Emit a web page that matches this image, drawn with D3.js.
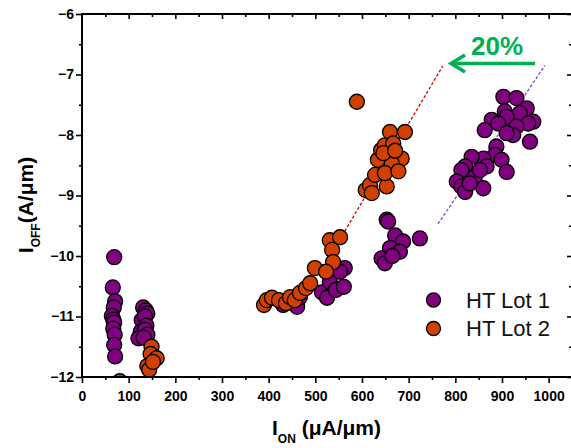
<!DOCTYPE html>
<html><head><meta charset="utf-8">
<script src="https://cdn.jsdelivr.net/npm/d3@7"></script>
<style>body{margin:0;background:#fff;}svg{display:block;}</style>
</head><body><svg id="c" width="571" height="448"></svg>
<script>
// ---- data ----
const lot1 = [
 [69,-10.02],[66,-10.52],[71,-10.75],[68,-10.85],[64,-10.99],[67,-11.05],[69,-11.1],[67,-11.2],[70,-11.3],[69,-11.47],[71,-11.66],
 [131,-10.85],[137,-10.9],[140,-10.95],[128,-11.06],[135,-11.0],[138,-11.15],[126,-11.25],[135,-11.22],[121,-11.36],[140,-11.3],[132,-11.35],
 [431,-10.81],[446,-10.76],[461,-10.84],[467,-10.68],[514,-10.6],[525,-10.69],[531,-10.43],[544,-10.56],[561,-10.51],[563,-10.2],[553,-10.26],
 [653,-9.4],[656,-9.43],[671,-9.66],[724,-9.71],[688,-9.76],[660,-9.87],[681,-9.93],[642,-10.04],[649,-10.12],[665,-10.0],
 [903,-7.37],[931,-7.39],[953,-7.56],[906,-7.61],[938,-7.64],[967,-7.78],[956,-7.81],[910,-7.7],[878,-7.75],[863,-7.92],[892,-7.81],
 [931,-7.86],[924,-8.0],[910,-7.97],[960,-8.11],[888,-8.19],[885,-8.33],[899,-8.41],[910,-8.61],[860,-8.39],[867,-8.52],[835,-8.36],
 [821,-8.52],[813,-8.58],[842,-8.69],[803,-8.77],[813,-8.85],[821,-8.94],[860,-8.88],[831,-8.8],[853,-8.58]
];
const lot2 = [
 [81,-12.07],[149,-11.5],[147,-11.62],[160,-11.69],[140,-11.82],[144,-11.88],[152,-11.75],
 [390,-10.81],[396,-10.73],[407,-10.69],[422,-10.73],[437,-10.78],[446,-10.68],[456,-10.73],[467,-10.61],[480,-10.53],[489,-10.45],
 [499,-10.2],[531,-9.74],[536,-9.9],[553,-9.69],[538,-10.1],[523,-10.26],
 [589,-7.45],[608,-8.91],[617,-8.83],[621,-8.96],[628,-8.66],[634,-8.41],[641,-8.25],[649,-8.17],[660,-7.95],[692,-7.95],
 [667,-8.14],[685,-8.39],[664,-8.47],[646,-8.3],[653,-8.85],[649,-8.63],[671,-8.26],[678,-8.6]
];
const xMajor = [0,100,200,300,400,500,600,700,800,900,1000];
const yMajor = [-6,-7,-8,-9,-10,-11,-12];
const seriesNames = ["HT Lot 1","HT Lot 2"];
const fitLot2 = [[563,-9.59],[773,-6.86]];
const fitLot1 = [[763,-9.47],[992,-6.85]];
const annotation = "20%";

// ---- layout ----
const svg = d3.select("#c");
const L=82, R=572, T=14, B=377;
const x = d3.scaleLinear().domain([0,1050]).range([L,R]);
const y = d3.scaleLinear().domain([-12,-6]).range([B,T]);
const font = "Arial, 'Liberation Sans', sans-serif";
const xMinor = d3.range(50,1050,100);
const yMinor = d3.range(-11.5,-6,1);

svg.append("defs").append("clipPath").attr("id","plotclip").append("rect")
  .attr("x",L).attr("y",T).attr("width",R-L).attr("height",B-T);

// fit lines
const line = d3.line().x(d=>x(d[0])).y(d=>y(d[1]));
svg.append("path").attr("d",line(fitLot2)).attr("stroke","#d40000").attr("stroke-width",1.3).attr("stroke-dasharray","3,2").attr("fill","none");
svg.append("path").attr("d",line(fitLot1)).attr("stroke","#8040c8").attr("stroke-width",1.3).attr("stroke-dasharray","3,2").attr("fill","none");

// points
const colors = ["#800080","#d24000"];
const plot = svg.append("g").attr("clip-path","url(#plotclip)");
[lot1,lot2].forEach((s,i)=>{
  plot.append("g").selectAll("circle").data(s).join("circle")
    .attr("cx",d=>x(d[0])).attr("cy",d=>y(d[1])).attr("r",7.5)
    .attr("fill",colors[i]).attr("stroke","#000").attr("stroke-width",1.3);
});

function styleAxis(g){
  g.select(".domain").remove();
  g.selectAll(".tick line").attr("stroke","#000").attr("stroke-width",1.6);
  g.selectAll("text").attr("font-family",font).attr("font-weight","bold").attr("font-size",14).attr("fill","#000");
}
const fmt = d => d<0 ? "\u2212"+Math.abs(d) : String(d);
// bottom
svg.append("g").attr("transform",`translate(0,${B})`)
  .call(d3.axisBottom(x).tickValues(xMinor).tickSize(3).tickFormat("")).call(styleAxis);
svg.append("g").attr("transform",`translate(0,${B})`)
  .call(d3.axisBottom(x).tickValues(xMajor).tickSize(6).tickPadding(8).tickFormat(fmt)).call(styleAxis);
// top
svg.append("g").attr("transform",`translate(0,${T})`)
  .call(d3.axisBottom(x).tickValues(xMinor).tickSize(3).tickFormat("")).call(styleAxis);
svg.append("g").attr("transform",`translate(0,${T})`)
  .call(d3.axisBottom(x).tickValues(xMajor.slice(1)).tickSize(5).tickFormat("")).call(styleAxis);
// left
svg.append("g").attr("transform",`translate(${L},0)`)
  .call(d3.axisLeft(y).tickValues(yMinor).tickSize(3).tickFormat("")).call(styleAxis);
svg.append("g").attr("transform",`translate(${L},0)`)
  .call(d3.axisLeft(y).tickValues(yMajor).tickSize(6).tickPadding(2).tickFormat(fmt)).call(styleAxis);
// right
svg.append("g").attr("transform",`translate(${R},0)`)
  .call(d3.axisLeft(y).tickValues(yMinor).tickSize(3).tickFormat("")).call(styleAxis);
svg.append("g").attr("transform",`translate(${R},0)`)
  .call(d3.axisLeft(y).tickValues(yMajor).tickSize(5).tickFormat("")).call(styleAxis);
svg.append("line").attr("x1",L).attr("x2",L).attr("y1",T-1).attr("y2",B+1).attr("stroke","#000").attr("stroke-width",2);
svg.append("line").attr("x1",L-1).attr("x2",R).attr("y1",B).attr("y2",B).attr("stroke","#000").attr("stroke-width",2);
svg.append("line").attr("x1",L-1).attr("x2",R).attr("y1",T).attr("y2",T).attr("stroke","#000").attr("stroke-width",2);

// arrow annotation
const g = svg.append("g").attr("stroke","#00b050").attr("stroke-width",3.5).attr("fill","none").attr("stroke-linecap","butt");
g.append("line").attr("x1",535).attr("x2",451).attr("y1",63.5).attr("y2",63.5);
g.append("polyline").attr("points","465,55 451,63.5 465,72");
svg.append("text").attr("x",497).attr("y",55).attr("text-anchor","middle").attr("font-family",font)
  .attr("font-weight","bold").attr("font-size",26).attr("fill","#00b050").text(annotation);

// legend
seriesNames.forEach((n,i)=>{
  const yy = 300 + i*28.5;
  svg.append("circle").attr("cx",433.5).attr("cy",yy).attr("r",7).attr("fill",colors[i]).attr("stroke","#000").attr("stroke-width",1.3);
  svg.append("text").attr("x",466).attr("y",yy+7.5).attr("font-family",font).attr("font-size",22).attr("fill","#111").text(n);
});

// axis titles
const xt = svg.append("text").attr("x",272).attr("y",435).attr("font-family",font).attr("font-weight","bold").attr("font-size",21).attr("fill","#000");
xt.append("tspan").text("I");
xt.append("tspan").attr("font-size",12).attr("dy",8).text("ON");
xt.append("tspan").attr("dy",-8).text(" (\u03bcA/\u03bcm)");
const yt = svg.append("text").attr("transform","translate(33,205) rotate(-90)").attr("text-anchor","middle")
  .attr("font-family",font).attr("font-weight","bold").attr("font-size",21).attr("fill","#000");
yt.append("tspan").text("I");
yt.append("tspan").attr("font-size",12).attr("dy",7).text("OFF");
yt.append("tspan").attr("dy",-7).text("(A/\u03bcm)");
</script></body></html>
